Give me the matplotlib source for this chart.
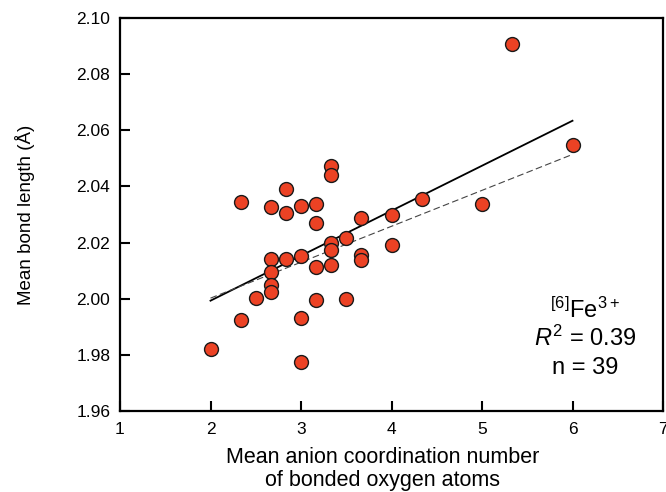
import matplotlib
matplotlib.use("Agg")
import matplotlib.pyplot as plt
import numpy as np

plt.rcParams['font.family'] = ['Liberation Sans', 'DejaVu Sans']
plt.rcParams['mathtext.fontset'] = 'custom'
plt.rcParams['mathtext.rm'] = 'Liberation Sans'
plt.rcParams['mathtext.it'] = 'Liberation Sans:italic'

# Data (mean anion coordination number vs mean bond length)
cn = [2.0,
      2.333, 2.333,
      2.5,
      2.667, 2.667, 2.667, 2.667, 2.667,
      2.833, 2.833, 2.833,
      3.0, 3.0, 3.0, 3.0,
      3.167, 3.167, 3.167, 3.167,
      3.333, 3.333, 3.333, 3.333, 3.333,
      3.5, 3.5,
      3.667, 3.667, 3.667,
      4.0, 4.0,
      4.333,
      5.0,
      5.333,
      6.0]
bond = [1.982,
        2.0344, 1.9924,
        2.0001,
        2.0326, 2.0140, 2.0096, 2.0049, 2.0025,
        2.0390, 2.0306, 2.0140,
        2.0331, 2.0152, 1.9932, 1.9776,
        2.0338, 2.0271, 2.0114, 1.9995,
        2.0473, 2.0442, 2.0200, 2.0173, 2.0120,
        2.0215, 1.9998,
        2.0286, 2.0156, 2.0138,
        2.0298, 2.0191,
        2.0354,
        2.0336,
        2.0906,
        2.0548]

# Regression lines (end points)
fit_x = [2.0, 6.0]
fit_solid = [1.9993, 2.0634]
fit_dashed = [2.0002, 2.0514]

xticks = [1, 2, 3, 4, 5, 6, 7]
yticks = [1.96, 1.98, 2.00, 2.02, 2.04, 2.06, 2.08, 2.10]

fig = plt.figure(figsize=(6.66, 4.92), dpi=100)
ax = fig.add_axes([120/666, 1-411/492, 543/666, 393/492])

ax.plot(fit_x, fit_solid, color='black', lw=1.3, zorder=2)
ax.plot(fit_x, fit_dashed, color='#444444', lw=0.8, ls=(0, (6, 3)), zorder=2)
ax.plot(cn, bond, 'o', ms=10, mfc='#EC4224', mec='#1a1a1a', mew=1.0, zorder=3)

ax.set_xlim(1, 7)
ax.set_ylim(1.96, 2.10)
ax.set_xticks(xticks)
ax.set_yticks(yticks)
ax.set_yticklabels([f"{v:.2f}" for v in yticks])
ax.tick_params(direction='in', length=7, width=1.5, labelsize=12.5)
ax.tick_params(axis='y', pad=7)
ax.tick_params(axis='x', pad=8)
for s in ax.spines.values():
    s.set_linewidth(1.6)

ax.set_xlabel("Mean anion coordination number\nof bonded oxygen atoms", fontsize=15.5, linespacing=1.1)
ax.xaxis.set_label_coords(0.484, -0.092)
ax.set_ylabel("Mean bond length (Å)", fontsize=13.5, va='center')
ax.yaxis.set_label_coords(-0.175, 0.5)

ax.text(0.856, 0.257, r"$^{[6]}$Fe$^{3+}$", transform=ax.transAxes, ha='center', va='center', fontsize=17)
ax.text(0.856, 0.186, r"$\mathit{R}^{2}$ = 0.39", transform=ax.transAxes, ha='center', va='center', fontsize=17)
ax.text(0.856, 0.109, "n = 39", transform=ax.transAxes, ha='center', va='center', fontsize=17)

fig.savefig("out.png", dpi=100)
